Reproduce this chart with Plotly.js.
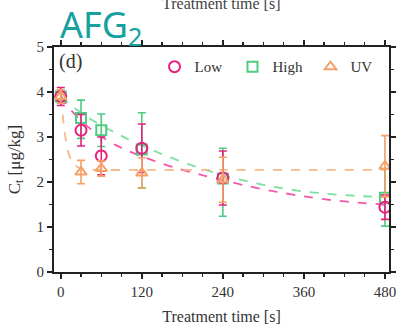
<!DOCTYPE html>
<html>
<head>
<meta charset="utf-8">
<script src="https://cdn.plot.ly/plotly-3.0.1.min.js"></script>
<style>html,body{margin:0;padding:0;background:#fff;}#chart{width:397px;height:333px;}</style>
</head>
<body>
<div id="chart"></div>
<script>
// Measured points
const times = [0, 30, 60, 120, 240, 480];
const lowC = [3.9, 3.15, 2.58, 2.75, 2.09, 1.44];
const lowErr = [0.2, 0.35, 0.42, 0.54, 0.6, 0.27];
const highC = [3.9, 3.42, 3.15, 2.72, 2.08, 1.65];
const highErrPlus = [0.15, 0.4, 0.36, 0.82, 0.67, 0.65];
const highErrMinus = [0.15, 0.45, 0.36, 0.85, 0.84, 0.63];
const uvC = [3.9, 2.22, 2.3, 2.2, 2.05, 2.35];
const uvErr = [0.15, 0.26, 0.17, 0.34, 0.5, 0.68];

// Fitted curves
const fitT = [0, 15, 30, 45, 60, 80, 100, 125, 150, 175, 200, 240, 280, 320, 360, 400, 440, 480];
const lowFit = [3.9, 3.6, 3.36, 3.17, 3.01, 2.83, 2.69, 2.54, 2.41, 2.29, 2.19, 2.04, 1.9, 1.78, 1.68, 1.6, 1.54, 1.5];
const highFit = [3.9, 3.71, 3.54, 3.39, 3.26, 3.1, 2.95, 2.78, 2.62, 2.47, 2.34, 2.15, 2.0, 1.88, 1.79, 1.73, 1.69, 1.66];
const uvFitT = [0, 5, 10, 15, 20, 30, 45, 120, 240, 360, 480];
const uvFit = [3.9, 3.2, 2.72, 2.5, 2.38, 2.3, 2.27, 2.27, 2.27, 2.27, 2.27];

const xTickVals = [0, 120, 240, 360, 480];
const yTickVals = [0, 1, 2, 3, 4, 5];

const cLow = '#e8207e', cLowL = '#f25aa8';
const cHigh = '#4ccc7e', cHighL = '#7ee0a2';
const cUV = '#f5a066', cUVL = '#f8b888';
const serif = 'Liberation Serif, Times New Roman, serif';

const traces = [
  {x: fitT, y: highFit, mode: 'lines', line: {color: cHighL, width: 1.8, dash: 'dash', shape: 'spline', smoothing: 0.6}, showlegend: false, hoverinfo: 'skip'},
  {x: fitT, y: lowFit, mode: 'lines', line: {color: cLowL, width: 1.8, dash: 'dash', shape: 'spline', smoothing: 0.6}, showlegend: false, hoverinfo: 'skip'},
  {x: uvFitT, y: uvFit, mode: 'lines', line: {color: cUVL, width: 1.8, dash: 'dash', shape: 'spline', smoothing: 0.6}, showlegend: false, hoverinfo: 'skip'},
  {x: times, y: highC, name: 'High', mode: 'markers', legendrank: 2,
   marker: {symbol: 'square-open', size: 10, color: cHigh, line: {width: 2, color: cHigh}},
   error_y: {type: 'data', array: highErrPlus, arrayminus: highErrMinus, symmetric: false, color: cHigh, thickness: 1.6, width: 4}},
  {x: times, y: lowC, name: 'Low', mode: 'markers', legendrank: 1,
   marker: {symbol: 'circle-open', size: 11, color: cLow, line: {width: 2, color: cLow}},
   error_y: {type: 'data', array: lowErr, color: cLow, thickness: 1.6, width: 4}},
  {x: times, y: uvC, name: 'UV', mode: 'markers', legendrank: 3,
   marker: {symbol: 'triangle-up-open', size: 10, color: cUV, line: {width: 2, color: cUV}},
   error_y: {type: 'data', array: uvErr, color: cUV, thickness: 1.6, width: 4}}
];

const layout = {
  width: 397, height: 333,
  margin: {l: 54, r: 8, t: 47, b: 61},
  paper_bgcolor: '#fff', plot_bgcolor: '#fff',
  font: {family: serif, size: 14, color: '#333'},
  xaxis: {
    range: [-10, 486], tickvals: xTickVals, ticktext: xTickVals.map(String),
    ticks: 'outside', ticklen: 5, tickwidth: 1.5, tickcolor: '#222',
    minor: {dtick: 30, tick0: 0, ticks: 'outside', ticklen: 3, tickcolor: '#222'},
    showline: true, linecolor: '#222', linewidth: 2, mirror: 'ticks',
    showgrid: false, zeroline: false,
    tickfont: {family: serif, size: 15, color: '#333'},
    title: {text: 'Treatment time [s]', font: {family: serif, size: 16, color: '#333'}, standoff: 12}
  },
  yaxis: {
    range: [0, 5], tickvals: yTickVals, ticktext: yTickVals.map(String),
    ticks: 'outside', ticklen: 5, tickwidth: 1.5, tickcolor: '#222',
    minor: {dtick: 0.5, tick0: 0, ticks: 'outside', ticklen: 3, tickcolor: '#222'},
    showline: true, linecolor: '#222', linewidth: 2, mirror: 'ticks',
    showgrid: false, zeroline: false,
    tickfont: {family: serif, size: 15, color: '#333'},
    title: {text: 'C<sub>t</sub> [μg/kg]', font: {family: serif, size: 17, color: '#333'}, standoff: 12}
  },
  legend: {
    orientation: 'h', x: 0.3, xanchor: 'left', y: 0.985, yanchor: 'top',
    font: {family: serif, size: 15, color: '#333'}, bgcolor: 'rgba(0,0,0,0)',
    itemwidth: 30, entrywidth: 33, tracegroupgap: 0
  },
  annotations: [
    {text: '(d)', xref: 'paper', yref: 'paper', x: 0.01, y: 0.995, xanchor: 'left', yanchor: 'top', showarrow: false,
     font: {family: serif, size: 20, color: '#333'}},
    {text: 'AFG<sub>2</sub>', xref: 'paper', yref: 'paper', x: 0.012, y: 1, xanchor: 'left', yanchor: 'bottom', yshift: -8, showarrow: false,
     font: {family: 'Noto Sans, Open Sans, sans-serif', size: 36, color: '#16a09e'}},
    {text: 'Treatment time [s]', xref: 'paper', yref: 'paper', x: 0.5, y: 1, xanchor: 'center', yanchor: 'bottom', yshift: 33, showarrow: false,
     font: {family: serif, size: 16, color: '#444'}}
  ],
  showlegend: true
};

Plotly.newPlot('chart', traces, layout, {displayModeBar: false, staticPlot: true});
</script>
</body>
</html>
